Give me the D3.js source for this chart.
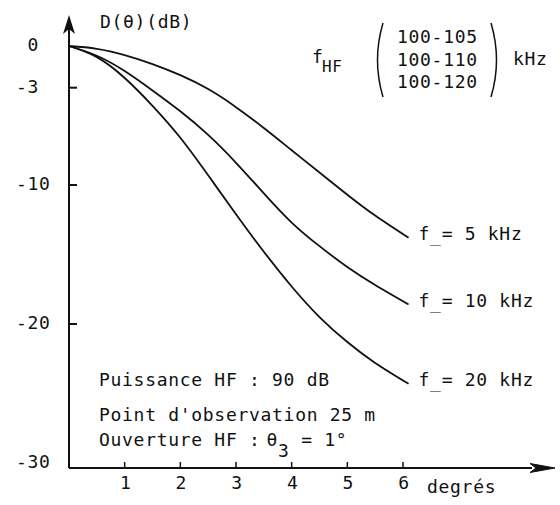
<!DOCTYPE html>
<html>
<head>
<meta charset="utf-8">
<script src="https://cdn.jsdelivr.net/npm/d3@7"></script>
<style>
  html, body { margin: 0; padding: 0; background: #fff; }
  svg text { font-family: "DejaVu Sans Mono", "Liberation Mono", monospace; fill: #111; letter-spacing: 0.7px; }
</style>
</head>
<body>
<svg id="chart" width="560" height="505"></svg>
<script>
// ---- data ----
const angles = [0, 0.5, 1, 1.5, 2, 2.5, 3, 3.5, 4, 4.5, 5, 5.5, 6.1];
const attn5kHz  = [0, -0.2, -0.65, -1.3, -2.1, -3.1, -4.4, -5.9, -7.5, -9.1, -10.7, -12.2, -13.8];
const attn10kHz = [0, -0.7, -1.8, -3.2, -4.7, -6.4, -8.4, -10.6, -12.7, -14.4, -15.9, -17.2, -18.6];
const attn20kHz = [0, -0.8, -2.3, -4.3, -6.6, -9.3, -12.1, -14.8, -17.3, -19.5, -21.3, -22.8, -24.3];
const seriesLabels = ["5 kHz", "10 kHz", "20 kHz"];
const yTickValues = [0, -3, -10, -20, -30];
const xTickValues = [1, 2, 3, 4, 5, 6];
const legendBands = ["100-105", "100-110", "100-120"];
const notes = ["Puissance HF : 90 dB", "Point d'observation 25 m"];

// ---- scales ----
const svg = d3.select("#chart");
const x = d3.scaleLinear().domain([0, 6]).range([69, 403]);
const y = d3.scaleLinear().domain([0, -30]).range([46, 463]);
const axisY = 468;
const charW = 11.55;

svg.append("rect").attr("width", 560).attr("height", 505).attr("fill", "#fff");

// ---- axes ----
svg.append("line").attr("x1", x(0)).attr("x2", 532).attr("y1", axisY).attr("y2", axisY)
  .attr("stroke", "#111").attr("stroke-width", 1.8);
svg.append("path").attr("d", `M530,463.5 L555,468 L530,472.5 L536,468 Z`).attr("fill", "#111")
  .attr("stroke", "#111").attr("stroke-width", 1);
svg.append("line").attr("x1", x(0)).attr("x2", x(0)).attr("y1", axisY).attr("y2", 26)
  .attr("stroke", "#111").attr("stroke-width", 2);
svg.append("path").attr("d", `M${x(0)},15 L${x(0)+6},34 L${x(0)},29 L${x(0)-6},34 Z`).attr("fill", "#111");

// y ticks
svg.selectAll(".ytick").data(yTickValues.filter(v => v !== 0 && v !== -30)).enter()
  .append("line").attr("x1", x(0)).attr("x2", x(0) + 8)
  .attr("y1", d => y(d)).attr("y2", d => y(d)).attr("stroke", "#111").attr("stroke-width", 2);
svg.selectAll(".ylab").data(yTickValues).enter().append("text")
  .attr("x", d => 16 + (String(d).length === 1 ? charW : 0))
  .attr("y", d => y(d) + 5)
  .attr("font-size", 18)
  .text(d => String(d));

// x ticks
svg.selectAll(".xtick").data(xTickValues).enter().append("line")
  .attr("x1", d => x(d)).attr("x2", d => x(d)).attr("y1", axisY).attr("y2", axisY - 6)
  .attr("stroke", "#111").attr("stroke-width", 1.5);
svg.selectAll(".xlab").data(xTickValues).enter().append("text")
  .attr("x", d => x(d) + 1).attr("y", 489).attr("text-anchor", "middle")
  .attr("font-size", 18).text(d => d);
svg.append("text").attr("x", 427).attr("y", 493).attr("font-size", 18).text("degrés");

// y title
svg.append("text").attr("x", 100).attr("y", 28).attr("font-size", 18).attr("letter-spacing", "1.8px").text("D(θ)(dB)");

// ---- curves ----
const series = [attn5kHz, attn10kHz, attn20kHz];
const line = d3.line().x(d => x(d[0])).y(d => y(d[1])).curve(d3.curveNatural);
series.forEach((vals, i) => {
  const pts = angles.map((a, j) => [a, vals[j]]);
  svg.append("path").attr("d", line(pts)).attr("fill", "none")
    .attr("stroke", "#111").attr("stroke-width", 1.8);
  const last = pts[pts.length - 1];
  const t = svg.append("text").attr("x", x(last[0]) + 10).attr("y", y(last[1]) + 2).attr("font-size", 18);
  t.append("tspan").text("f");
  t.append("tspan").attr("dy", 2).text("_");
  t.append("tspan").attr("dy", -2).text("= " + seriesLabels[i]);
});

// ---- legend ----
svg.append("text").attr("x", 312).attr("y", 63).attr("font-size", 18).text("f");
svg.append("text").attr("x", 322).attr("y", 72).attr("font-size", 16).text("HF");
svg.selectAll(".band").data(legendBands).enter().append("text")
  .attr("x", 397).attr("y", (d, i) => 43 + i * 22.5).attr("font-size", 18).text(d => d);
svg.append("path").attr("d", "M383,23 Q372,60 383,97").attr("fill", "none").attr("stroke", "#111").attr("stroke-width", 1.5);
svg.append("path").attr("d", "M491,23 Q502,60 491,97").attr("fill", "none").attr("stroke", "#111").attr("stroke-width", 1.5);
svg.append("text").attr("x", 513).attr("y", 65).attr("font-size", 18).text("kHz");

// ---- notes ----
svg.selectAll(".note").data(notes).enter().append("text")
  .attr("x", 99).attr("y", (d, i) => [386, 421][i]).attr("font-size", 18).text(d => d);
const o = svg.append("text").attr("x", 99).attr("y", 446).attr("font-size", 18);
o.append("tspan").text("Ouverture HF :");
o.append("tspan").attr("dx", 6).text("θ");
o.append("tspan").attr("dy", 11).text("3");
o.append("tspan").attr("dy", -11).text(" = 1°");
</script>
</body>
</html>
